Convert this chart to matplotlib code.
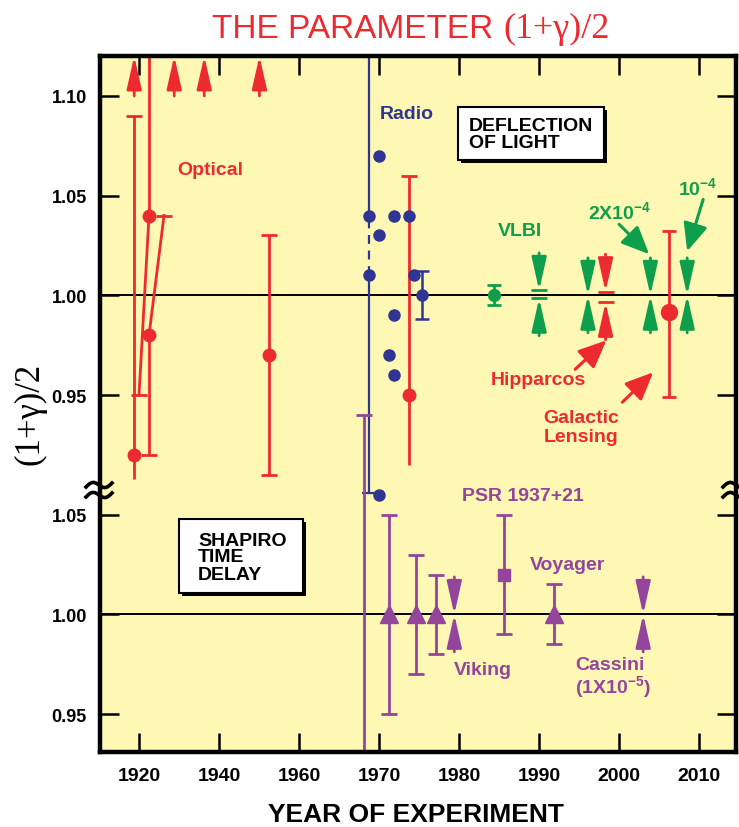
import numpy as np
import matplotlib
matplotlib.use("Agg")
from matplotlib import pyplot as plt
from matplotlib.lines import Line2D
from matplotlib.patches import Rectangle

plt.rcParams["font.family"] = ["Liberation Sans", "DejaVu Sans"]
plt.rcParams["font.weight"] = "bold"
plt.rcParams["mathtext.fontset"] = "custom"
plt.rcParams["mathtext.rm"] = "Liberation Sans:bold"
plt.rcParams["mathtext.bf"] = "Liberation Sans:bold"

RED = "#ED2A2F"
BLUE = "#2E3592"
GREEN = "#0E9F4C"
PURPLE = "#93459B"
YELLOW = "#FFF8B4"

# the time delay panel is drawn OFF below the deflection panel
OFF = 0.16

# ---- deflection of light: optical eclipses
opt_year = [1918.75, 1922.5, 1922.5, 1952.5, 1973.75]
opt_val = [0.92, 1.04, 0.98, 0.97, 0.95]
opt_lo = [0.908, 1.04, 0.92, 0.91, 0.915]
opt_hi = [1.09, 1.13, 0.98, 1.03, 1.06]
opt_cap_year = [1918.75, 1922.5, 1952.5, 1952.5, 1973.75, 1920.0, 1926.25]
opt_cap_val = [1.09, 0.92, 1.03, 0.91, 1.06, 0.95, 1.04]
opt_tilt_year = [(1922.5, 1920.0), (1922.5, 1926.25)]
opt_tilt_val = [(1.04, 0.95), (0.98, 1.04)]
opt_offscale_year = [1918.8, 1928.8, 1936.3, 1950.1]

# ---- deflection of light: radio
radio_year = [1968.75, 1968.75, 1970.0, 1970.0, 1970.0, 1971.9, 1971.9,
              1971.25, 1971.9, 1973.75, 1974.4]
radio_val = [1.04, 1.01, 1.07, 1.03, 0.90, 1.04, 0.99, 0.97, 0.96, 1.04, 1.01]
radio_bar_year = 1968.75
radio_bar = [0.901, 1.01, 1.04, 1.13]
radio_err_year, radio_err_val, radio_err = 1975.4, 1.00, 0.012

# ---- VLBI
vlbi_pt_year, vlbi_pt_val, vlbi_pt_err = 1984.4, 1.00, 0.005
vlbi_year = [1990.0, 1996.1, 2003.9, 2008.5]
vlbi_center = [1.0005, 1.0, 1.0, 1.0]
vlbi_half = [0.002, 0.0, 0.0, 0.0]

# ---- Hipparcos and galactic lensing
hip_year, hip_center, hip_half = 1998.3, 0.99915, 0.0027
lens_year, lens_val, lens_lo, lens_hi = 2006.25, 0.9915, 0.949, 1.032

# ---- Shapiro time delay
shap_year = [1971.25, 1974.6, 1977.1, 1991.8]
shap_val = [1.00, 1.00, 1.00, 1.00]
shap_err = [0.05, 0.03, 0.02, 0.015]
shap_long_year, shap_long_val, shap_long_lo, shap_long_hi = 1968.1, 1.00, 0.80, 1.10
psr_year, psr_val, psr_err = 1985.6, 1.02, 0.03
squeeze_year = [1979.4, 2003.0]   # Viking, Cassini
squeeze_val = [1.00, 1.00]

year_ticks = [1920, 1940, 1960, 1970, 1980, 1990, 2000, 2010]
upper_ticks = [1.10, 1.05, 1.00, 0.95]
lower_ticks = [1.05, 1.00, 0.95]


def fwd(yr):
    yr = np.asarray(yr, float)
    return np.where(yr <= 1960, (yr - 1920) / 20.0, 2 + (yr - 1960) / 10.0)


def inv(u):
    u = np.asarray(u, float)
    return np.where(u <= 2, 1920 + 20 * u, 1960 + 10 * (u - 2))


W, H = 739, 828
fig = plt.figure(figsize=(W / 100, H / 100), dpi=100)
ax = fig.add_axes([100 / W, 1 - 753 / H, 636 / W, 696 / H])
ax.set_facecolor(YELLOW)
ax.set_xscale("function", functions=(fwd, inv))
ax.set_xlim(1910.25, 2014.6)
ax.set_ylim(0.771, 1.12)

ax.set_xticks(year_ticks, labels=[str(y) for y in year_ticks])
ax.set_yticks(upper_ticks + [v - OFF for v in lower_ticks],
              labels=[f"{v:.2f}" for v in upper_ticks + lower_ticks])
ax.minorticks_off()
ax.tick_params(direction="in", length=14, width=1.8, top=True, right=True)
ax.tick_params(axis="y", labelsize=13, pad=9.5)
ax.tick_params(axis="x", labelsize=14, pad=11)
for sp in ax.spines.values():
    sp.set_linewidth(3.2)

ax.axhline(1.0, color="black", lw=1.4, zorder=1)
ax.axhline(1.0 - OFF, color="black", lw=1.4, zorder=1)

arrow = dict(arrowstyle="-|>,head_length=2.0,head_width=0.45",
             mutation_scale=10, lw=2.0, shrinkA=0, shrinkB=0)
label_arrow = dict(arrowstyle="-|>,head_length=1.7,head_width=0.75",
                   mutation_scale=10, lw=2.2, shrinkA=0, shrinkB=0)


def squeeze_arrows(year, center, half, color):
    for s in (1, -1):
        ax.annotate("", xy=(year, center + s * half), xytext=(0, s * 27),
                    textcoords="offset points",
                    arrowprops=dict(arrow, color=color))
    if half > 0:
        ax.plot([year, year], [center - half, center + half], "_",
                color=color, ms=11, mew=2)


# optical
ax.vlines(opt_year, opt_lo, opt_hi, color=RED, lw=2)
for xs, ys in zip(opt_tilt_year, opt_tilt_val):
    ax.plot(xs, ys, color=RED, lw=2)
ax.plot(opt_cap_year, opt_cap_val, "_", color=RED, ms=11, mew=2)
ax.plot(opt_year, opt_val, "o", color=RED, ms=9)
for yr in opt_offscale_year:
    ax.annotate("", xy=(yr, 1.12), xytext=(yr, 1.10), annotation_clip=False,
                arrowprops=dict(arrow, color=RED))

# radio
ax.plot([radio_bar_year] * 2, radio_bar[0:2], color=BLUE, lw=1.6)
ax.plot([radio_bar_year] * 2, radio_bar[1:3], color=BLUE, lw=1.6, ls=(0, (4, 3)))
ax.plot([radio_bar_year] * 2, radio_bar[2:4], color=BLUE, lw=1.6)
ax.plot(radio_bar_year, radio_bar[0], "_", color=BLUE, ms=10, mew=1.6)
ax.plot(radio_year, radio_val, "o", color=BLUE, ms=8)
ax.errorbar(radio_err_year, radio_err_val, yerr=radio_err, fmt="o", color=BLUE,
            ms=8, capsize=5, elinewidth=1.8, capthick=1.8)

# VLBI
ax.errorbar(vlbi_pt_year, vlbi_pt_val, yerr=vlbi_pt_err, fmt="o", color=GREEN,
            ms=8.5, capsize=5, elinewidth=2, capthick=2)
for yr, c, h in zip(vlbi_year, vlbi_center, vlbi_half):
    squeeze_arrows(yr, c, h, GREEN)

# Hipparcos, galactic lensing
squeeze_arrows(hip_year, hip_center, hip_half, RED)
ax.errorbar(lens_year, lens_val, yerr=[[lens_val - lens_lo], [lens_hi - lens_val]],
            fmt="o", color=RED, ms=11.5, capsize=5, elinewidth=2, capthick=2)

# Shapiro time delay (lower panel)
ax.errorbar(shap_long_year, shap_long_val - OFF,
            yerr=[[shap_long_val - shap_long_lo], [shap_long_hi - shap_long_val]],
            fmt="none", ecolor=PURPLE, capsize=5.5, elinewidth=2, capthick=2)
ax.errorbar(shap_year, [v - OFF for v in shap_val], yerr=shap_err, fmt="^",
            color=PURPLE, ms=13, capsize=5.5, elinewidth=2, capthick=2)
ax.errorbar(psr_year, psr_val - OFF, yerr=psr_err, fmt="s", color=PURPLE,
            ms=8, capsize=5.5, elinewidth=2, capthick=2)
for yr, v in zip(squeeze_year, squeeze_val):
    squeeze_arrows(yr, v - OFF, 0.0, PURPLE)

# labels
txt = dict(fontsize=14, fontweight="bold", ha="center", va="center")
ax.text(1937.75, 1.063, "Optical", color=RED, **txt)
ax.text(1973.4, 1.091, "Radio", color=BLUE, **txt)
ax.text(1987.6, 1.0326, "VLBI", color=GREEN, **txt)
ax.text(2000.1, 1.042, "2X10$^{\\mathbf{-4}}$", color=GREEN, **txt)
ax.text(2009.75, 1.054, "10$^{\\mathbf{-4}}$", color=GREEN, **txt)
ax.text(1989.9, 0.958, "Hipparcos", color=RED, **txt)
ax.text(1995.25, 0.934, "Galactic\nLensing", color=RED, linespacing=1.1, **txt)
ax.text(1988.0, 0.8998, "PSR 1937+21", color=PURPLE, **txt)
ax.text(1993.6, 0.8652, "Voyager", color=PURPLE, **txt)
ax.text(1983.0, 0.8125, "Viking", color=PURPLE, **txt)
ax.text(1998.9, 0.815, "Cassini", color=PURPLE, **txt)
ax.text(1999.25, 0.8035, "(1X10$^{\\mathbf{-5}}$)", color=PURPLE, **txt)

ax.annotate("", xy=(2003.75, 1.0206), xytext=(2000.0, 1.0356),
            arrowprops=dict(label_arrow, color=GREEN))
ax.annotate("", xy=(2008.5, 1.0221), xytext=(2010.5, 1.0481),
            arrowprops=dict(label_arrow, color=GREEN))
ax.annotate("", xy=(1998.4, 0.9774), xytext=(1994.5, 0.9629),
            arrowprops=dict(label_arrow, color=RED))
ax.annotate("", xy=(2004.25, 0.9614), xytext=(2000.4, 0.9464),
            arrowprops=dict(label_arrow, color=RED))


def label_box(px0, py0, px1, py1, text, tx, ty):
    # pixel box -> axes fraction
    x0, x1 = (px0 - 100) / 636, (px1 - 100) / 636
    y0, y1 = (753 - py1) / 696, (753 - py0) / 696
    ax.add_patch(Rectangle((x0 + 0.004, y0 - 0.004), x1 - x0, y1 - y0,
                           transform=ax.transAxes, fc="black", ec="none", zorder=5))
    ax.add_patch(Rectangle((x0, y0), x1 - x0, y1 - y0, transform=ax.transAxes,
                           fc="white", ec="black", lw=1.5, zorder=6))
    ax.text((tx - 100) / 636, (753 - ty) / 696, text, transform=ax.transAxes,
            ha="left", va="center", fontsize=14, fontweight="bold",
            linespacing=1.0, zorder=7)


label_box(458, 108, 604, 161, "DEFLECTION\nOF LIGHT", 469, 135)
label_box(179, 520, 303, 594, "SHAPIRO\nTIME\nDELAY", 198, 558)

# axis break marks
t = np.linspace(-1, 1, 40)
for px in (99, 736):
    for dy in (-5.0, 5.0):
        xs = px + 13 * t
        ys = (H - 491) + dy - 3.5 * np.sin(np.pi * t) + 2.0 * t
        fig.add_artist(Line2D(xs / W, ys / H, color="black", lw=2.6,
                              transform=fig.transFigure))

# titles
fig.text(493 / W, 1 - 38 / H, "THE PARAMETER", color=RED, fontsize=24,
         fontweight="normal", ha="right", va="baseline")
fig.text(503 / W, 1 - 38 / H, "(1+\u03b3)/2", color=RED, fontsize=26,
         family="Liberation Serif", fontweight="normal", ha="left", va="baseline")
fig.text(30 / W, 0.5, "(1+\u03b3)/2", rotation=90, fontsize=25,
         family="Liberation Serif", fontweight="normal", ha="center", va="center")
fig.text(416 / W, 1 - 815 / H, "YEAR OF EXPERIMENT", fontsize=19,
         fontweight="bold", ha="center", va="center")

fig.savefig("out.png", dpi=100)
